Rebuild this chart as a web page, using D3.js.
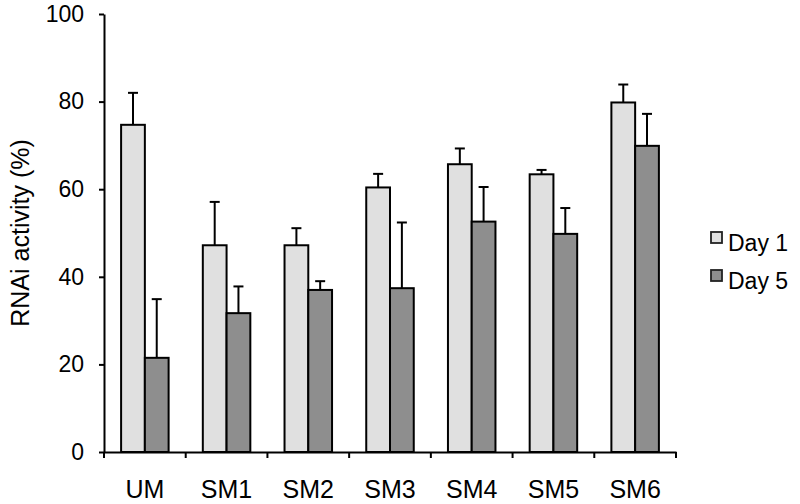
<!DOCTYPE html>
<html>
<head>
<meta charset="utf-8">
<script src="https://cdn.jsdelivr.net/npm/d3@7"></script>
<style>
  html, body { margin: 0; padding: 0; background: #fff; }
  svg { display: block; font-family: "Liberation Sans", Arial, Helvetica, sans-serif; }
</style>
</head>
<body>
<svg id="chart" width="800" height="504"></svg>
<script>
const categories = ["UM", "SM1", "SM2", "SM3", "SM4", "SM5", "SM6"];
const seriesNames = ["Day 1", "Day 5"];
const day1 = [74.7, 47.2, 47.2, 60.4, 65.7, 63.4, 79.8];
const day1Err = [7.3, 9.9, 3.9, 3.1, 3.6, 1.0, 4.1];
const day5 = [21.5, 31.7, 37.0, 37.4, 52.6, 49.8, 69.9];
const day5Err = [13.4, 6.1, 2.0, 15.0, 7.9, 5.9, 7.3];
const yTicks = [0, 20, 40, 60, 80, 100];
const colors = ["#e0e0e0", "#8e8e8e"];

(function () {
const values = [day1, day5];
const errs = [day1Err, day5Err];

const svg = d3.select("#chart");
const mLeft = 104, mRight = 676, mTop = 14, mBottom = 452;

const y = d3.scaleLinear().domain([0, 100]).range([mBottom, mTop]);
const x = d3.scaleBand().domain(categories).range([mLeft, mRight]).paddingInner(0).paddingOuter(0);
const x1 = d3.scaleBand().domain(seriesNames).range([0, x.bandwidth()]).paddingInner(0).paddingOuter(0.72);

const data = [];
categories.forEach((c, i) => {
  seriesNames.forEach((s, j) => {
    data.push({ c, s, v: values[j][i], e: errs[j][i], col: colors[j] });
  });
});

// error bars
const eb = svg.append("g");
data.forEach(d => {
  const cx = x(d.c) + x1(d.s) + x1.bandwidth() / 2;
  eb.append("line")
    .attr("x1", cx).attr("x2", cx)
    .attr("y1", y(d.v)).attr("y2", y(d.v + d.e))
    .attr("stroke", "#000").attr("stroke-width", 2);
  eb.append("line")
    .attr("x1", cx - 5).attr("x2", cx + 5)
    .attr("y1", y(d.v + d.e)).attr("y2", y(d.v + d.e))
    .attr("stroke", "#000").attr("stroke-width", 2);
});

// bars
svg.append("g").selectAll("rect").data(data).join("rect")
  .attr("x", d => x(d.c) + x1(d.s))
  .attr("y", d => y(d.v))
  .attr("width", x1.bandwidth())
  .attr("height", d => y(0) - y(d.v))
  .attr("fill", d => d.col)
  .attr("stroke", "#000")
  .attr("stroke-width", 2);

// y axis
const yAxis = svg.append("g")
  .attr("transform", `translate(${mLeft},0)`)
  .call(d3.axisLeft(y).tickValues(yTicks).tickSize(5).tickPadding(15).tickSizeOuter(0));
yAxis.select(".domain").attr("stroke-width", 2);
yAxis.selectAll(".tick line").attr("stroke-width", 2);
yAxis.selectAll(".tick text").attr("font-size", 23).attr("fill", "#000")
  .attr("font-family", "'Liberation Sans', Arial, sans-serif");

// x axis
const xAxis = svg.append("g")
  .attr("transform", `translate(0,${mBottom})`)
  .call(d3.axisBottom(x).tickSize(0).tickPadding(28).tickSizeOuter(0));
xAxis.select(".domain").attr("stroke-width", 2);
xAxis.selectAll(".tick text").attr("font-size", 25).attr("fill", "#000")
  .attr("font-family", "'Liberation Sans', Arial, sans-serif");
const bounds = categories.map(c => x(c)).concat([x.range()[1]]);
xAxis.append("g").selectAll("line").data(bounds).join("line")
  .attr("x1", d => d).attr("x2", d => d)
  .attr("y1", 0).attr("y2", 6)
  .attr("stroke", "#000").attr("stroke-width", 2);

// y title
svg.append("text")
  .attr("transform", `translate(29,${(mTop + mBottom) / 2}) rotate(-90)`)
  .attr("text-anchor", "middle")
  .attr("font-size", 25)
  .text("RNAi activity (%)");

// legend
const leg = svg.append("g").attr("transform", "translate(711,232)");
seriesNames.forEach((s, j) => {
  const g = leg.append("g").attr("transform", `translate(0,${j * 38})`);
  g.append("rect").attr("x", 0).attr("y", 0).attr("width", 11).attr("height", 11)
    .attr("fill", colors[j]).attr("stroke", "#222").attr("stroke-width", 1.8);
  g.append("text").attr("x", 17).attr("y", 19).attr("font-size", 23).text(s);
});
})();
</script>
</body>
</html>
